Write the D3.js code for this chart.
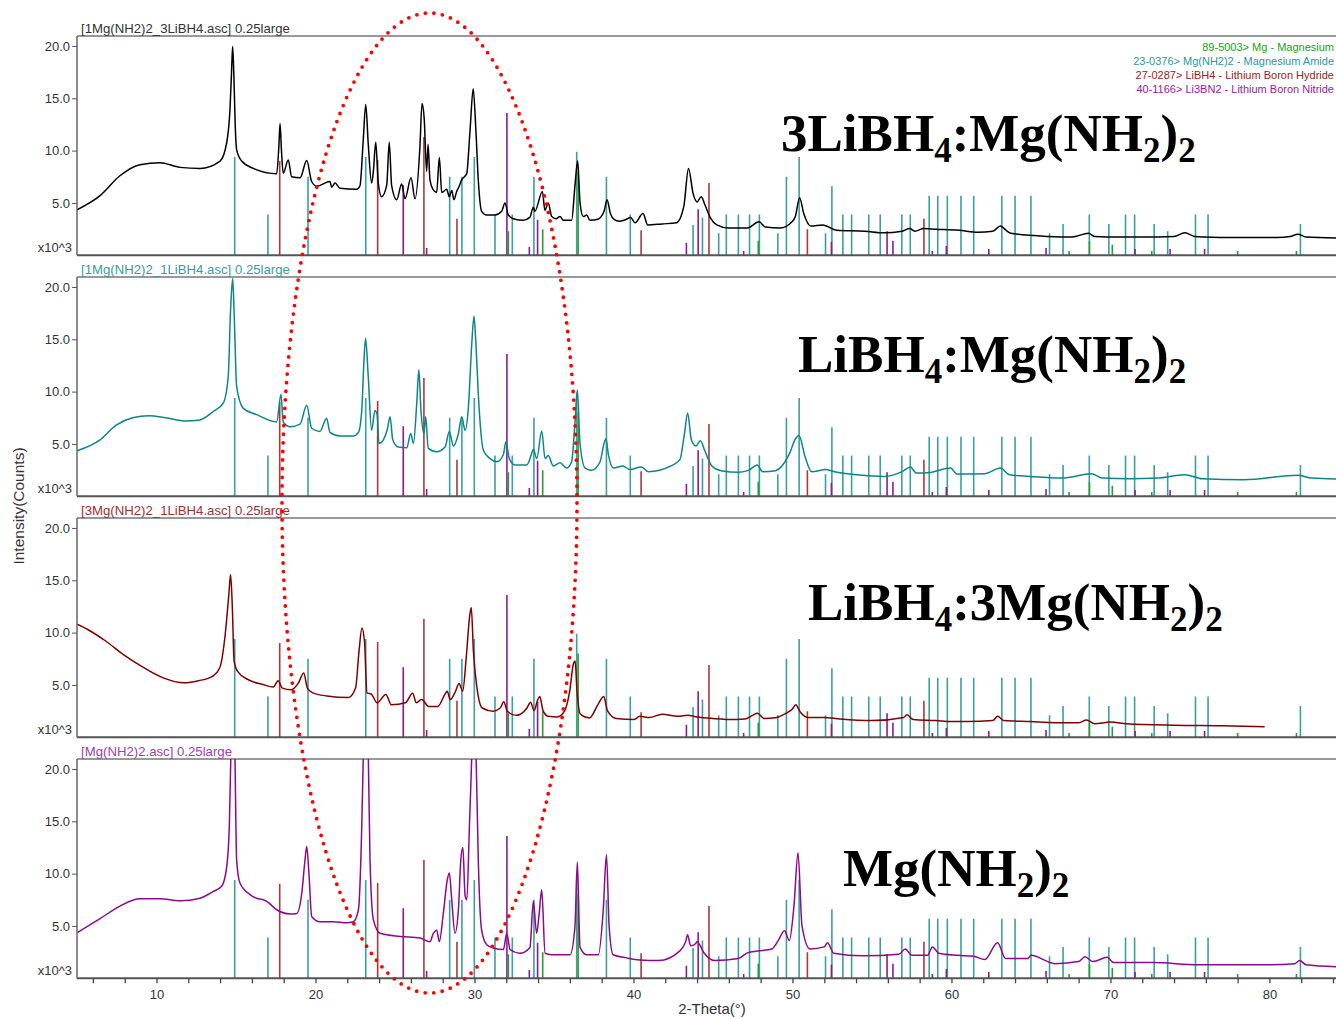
<!DOCTYPE html>
<html><head><meta charset="utf-8">
<script src="https://cdn.jsdelivr.net/npm/d3@7"></script>
<style>body{margin:0;background:#fff}svg{display:block}</style>
</head><body>
<svg id="c" width="1336" height="1019"></svg>
<script>
// ---------------- DATA ----------------
const xTickLabels = [10, 20, 30, 40, 50, 60, 70, 80];
const yTickLabels = [5, 10, 15, 20];
const panelTitles = ["[1Mg(NH2)2_3LiBH4.asc] 0.25large", "[1Mg(NH2)2_1LiBH4.asc] 0.25large", "[3Mg(NH2)2_1LiBH4.asc] 0.25large", "[Mg(NH2)2.asc] 0.25large"];
const sampleLabels = [
  [["3LiBH",0],["4",1],[":Mg(NH",0],["2",1],[")",0],["2",1]],
  [["LiBH",0],["4",1],[":Mg(NH",0],["2",1],[")",0],["2",1]],
  [["LiBH",0],["4",1],[":3Mg(NH",0],["2",1],[")",0],["2",1]],
  [["Mg(NH",0],["2",1],[")",0],["2",1]]
];
const legendLabels = ["89-5003> Mg - Magnesium", "23-0376> Mg(NH2)2 - Magnesium Amide", "27-0287> LiBH4 - Lithium Boron Hydride", "40-1166> Li3BN2 - Lithium Boron Nitride"];

// reference patterns (2-theta, intensity in x10^3 counts scale)
const mgPos  = [32.13, 34.29, 36.52, 47.85, 67.4, 68.68, 70.12, 72.6, 78.0, 81.7];
const mgInt  = [2.3, 2.5, 8.0, 1.4, 0.4, 1.35, 1.0, 0.4, 0.4, 0.4];
const amPos  = [14.92, 17.01, 19.53, 23.16, 28.44, 29.21, 29.99, 31.29, 32.38, 33.74, 36.43, 38.3, 39.8, 43.75, 44.34, 45.36, 45.84, 46.6, 47.3, 47.92, 49.08, 49.62, 50.42, 52.08, 52.48, 53.17, 53.72, 54.8, 55.52, 56.88, 57.41, 58.6, 59.14, 59.74, 60.6, 61.4, 63.17, 64.0, 65.0, 66.17, 67.02, 68.67, 69.9, 70.95, 71.52, 72.75, 73.6, 75.35, 76.14, 81.95];
const amInt  = [9.4, 3.9, 7.5, 9.4, 7.5, 7.5, 9.4, 3.9, 3.9, 7.5, 9.9, 7.5, 3.9, 2.9, 3.6, 2.1, 3.9, 3.9, 3.9, 3.9, 2.1, 7.5, 9.4, 2.1, 6.6, 3.9, 3.9, 3.9, 3.9, 3.9, 3.9, 5.7, 5.7, 5.7, 5.7, 5.7, 5.7, 5.7, 5.7, 2.1, 3.0, 3.9, 3.0, 3.9, 3.9, 3.0, 2.3, 3.9, 3.9, 3.0];
const lbPos  = [17.75, 23.91, 26.82, 28.9, 40.48, 44.75, 50.94, 58.27];
const lbInt  = [9.0, 9.1, 11.3, 3.5, 2.4, 6.9, 2.5, 3.5];
const lnPos  = [25.52, 26.99, 32.04, 33.45, 33.97, 43.33, 44.07, 46.93, 52.45, 55.95, 56.32, 58.8, 59.68, 62.35, 65.95, 71.55, 73.75, 75.92];
const lnInt  = [6.7, 0.7, 13.6, 0.8, 3.4, 1.2, 4.4, 0.4, 1.3, 2.3, 1.4, 0.4, 0.9, 0.6, 0.7, 0.6, 0.6, 0.6];

// measured patterns [2-theta, x10^3 counts]
const curve1 = [[5.0,4.35],[6.45,5.7],[7.7,7.6],[8.96,8.65],[10.22,8.85],[11.48,8.4],[12.74,8.3],[14.0,9.0],[14.42,10.8],[14.62,13.9],[14.72,17.5],[14.79,19.95],[14.87,17],[14.95,12.5],[15.04,10.1],[15.36,9.0],[16.09,8.3],[17.56,7.8],[17.7,10.5],[17.77,12.6],[17.86,10],[17.97,7.85],[18.29,9.1],[18.5,7.5],[19.03,7.4],[19.45,9.05],[19.76,7.05],[20.08,6.6],[20.91,7.05],[21.02,6.5],[21.23,6.9],[21.54,6.4],[22.59,6.3],[22.8,6.65],[23.0,10.9],[23.16,14.4],[23.32,10.6],[23.53,6.9],[23.64,8.0],[23.79,10.8],[23.95,6.9],[24.16,5.6],[24.48,6.7],[24.64,10.8],[24.79,6.65],[25.11,5.3],[25.42,6.8],[25.63,5.4],[26.01,7.4],[26.26,5.4],[26.57,10.4],[26.7,14.5],[26.84,13.0],[26.99,8.0],[27.08,10.6],[27.2,7.2],[27.39,6.3],[27.62,6.0],[27.79,9.35],[27.94,6.0],[28.25,6.3],[28.42,5.6],[28.57,6.2],[28.71,5.3],[28.88,6.1],[29.04,6.6],[29.19,7.2],[29.51,7.8],[29.72,11.9],[29.92,15.9],[30.09,11.9],[30.24,7.2],[30.45,4.2],[30.77,3.85],[31.29,3.85],[31.71,4.2],[31.92,5.0],[32.13,3.85],[32.44,3.5],[33.07,3.35],[33.49,3.65],[33.7,4.6],[33.8,4.2],[34.27,6.1],[34.43,4.3],[34.64,5.0],[34.86,3.7],[35.13,3.5],[35.38,3.7],[35.59,3.35],[36.11,3.35],[36.32,6.65],[36.49,9.0],[36.64,5.0],[36.84,3.7],[37.06,3.85],[37.26,3.35],[37.76,3.45],[38.15,4.2],[38.34,5.3],[38.55,4.0],[38.8,3.4],[39.1,3.25],[39.5,3.4],[39.82,3.6],[40.1,3.1],[40.6,4.0],[40.9,2.9],[41.8,3.0],[42.7,3.1],[43.17,4.7],[43.46,8.3],[43.75,5.9],[44.0,5.1],[44.26,5.6],[44.5,4.8],[44.85,3.55],[45.24,2.9],[45.98,2.6],[47.16,2.6],[47.9,3.2],[48.3,2.7],[49.23,2.6],[49.97,3.2],[50.18,3.7],[50.45,5.5],[50.71,4.0],[51.16,2.8],[51.9,2.9],[52.78,2.4],[54.56,2.3],[55.74,2.15],[56.9,2.3],[57.37,2.55],[57.7,2.3],[58.26,2.55],[59.0,2.5],[60.48,2.4],[61.66,2.2],[62.6,2.3],[63.08,2.8],[63.5,2.3],[63.73,2.1],[66.1,1.8],[67.58,1.75],[68.62,2.1],[69.0,1.8],[70.54,1.75],[72.02,1.75],[74.0,1.8],[74.68,2.15],[75.3,1.8],[75.87,1.75],[77.94,1.7],[80.5,1.7],[81.3,1.8],[81.79,2.0],[82.3,1.75],[84.4,1.65]];
const curve2 = [[5.0,4.35],[6.45,5.4],[7.46,6.8],[8.5,7.5],[9.53,7.7],[10.58,7.5],[11.84,7.2],[12.74,7.3],[13.57,8.1],[14.2,8.9],[14.51,11.4],[14.66,17.8],[14.79,20.8],[14.89,17.2],[15.04,10.5],[15.46,8.4],[16.3,7.8],[17.56,7.1],[17.83,9.75],[17.97,7.1],[18.4,6.65],[19.03,6.9],[19.45,8.7],[19.76,6.5],[20.28,6.2],[20.7,7.45],[20.91,6.1],[21.54,5.75],[22.38,5.75],[22.7,6.1],[22.91,8.2],[23.05,13.0],[23.15,15.1],[23.32,11.4],[23.53,6.3],[23.74,8.2],[23.88,7.8],[23.99,5.05],[24.27,5.4],[24.52,6.4],[24.69,7.6],[24.86,5.4],[25.21,4.7],[25.74,4.65],[25.99,6.0],[26.16,5.05],[26.37,8.9],[26.5,12.1],[26.63,8.3],[26.82,6.0],[26.93,7.6],[27.09,4.6],[27.62,4.25],[28.15,4.7],[28.42,6.2],[28.67,4.8],[28.99,6.0],[29.2,7.6],[29.41,6.3],[29.62,8.55],[29.83,14.6],[29.97,17.2],[30.09,14.6],[30.24,9.8],[30.56,4.4],[30.98,3.6],[31.4,3.3],[31.81,3.95],[31.98,5.2],[32.19,3.6],[32.55,3.0],[33.29,3.0],[33.6,4.1],[33.7,4.5],[33.92,3.6],[34.23,6.25],[34.44,3.6],[34.64,3.9],[34.96,2.9],[35.38,3.2],[35.8,2.7],[36.11,3.3],[36.32,7.0],[36.47,10.15],[36.64,5.0],[36.96,2.7],[37.38,2.5],[37.9,3.3],[38.15,5.05],[38.27,5.5],[38.42,4.0],[38.74,2.7],[39.33,2.9],[39.78,2.55],[40.5,2.8],[40.92,2.35],[42.35,2.9],[42.92,3.5],[43.21,6.0],[43.41,7.95],[43.64,5.4],[43.93,4.8],[44.21,5.3],[44.5,4.3],[44.93,2.9],[45.5,2.45],[46.64,2.3],[47.27,2.5],[47.78,3.0],[48.13,2.35],[48.93,2.45],[49.79,4.0],[50.21,5.55],[50.41,5.8],[50.79,3.8],[51.21,2.35],[52.07,2.55],[52.64,2.35],[54.07,2.06],[55.79,1.9],[56.93,2.38],[57.42,2.8],[57.79,2.22],[58.65,2.28],[59.94,2.7],[60.36,2.12],[62.08,2.15],[63.08,2.7],[63.65,2.06],[64.94,1.9],[66.94,1.74],[68.8,2.15],[69.5,1.74],[71.2,1.67],[72.94,1.74],[74.66,2.06],[75.8,1.67],[78.37,1.58],[81.8,2.0],[82.66,1.74],[84.4,1.64]];
const curve3 = [[5.0,10.8],[5.67,10.3],[6.8,9.2],[7.92,7.9],[9.04,6.8],[10.39,5.7],[11.74,5.2],[12.64,5.4],[13.54,5.85],[13.98,6.65],[14.32,9.8],[14.55,13.65],[14.66,15.55],[14.77,12.4],[14.88,7.3],[15.1,6.3],[15.78,5.5],[16.68,5.05],[17.35,4.8],[17.65,5.4],[17.92,4.7],[18.48,4.55],[18.93,5.2],[19.26,6.15],[19.49,4.7],[19.82,4.25],[20.72,3.95],[22.07,3.8],[22.52,4.7],[22.74,8.25],[22.92,10.45],[23.08,9.2],[23.24,4.25],[23.53,4.1],[23.87,3.3],[24.43,4.1],[24.77,3.1],[25.66,3.3],[26.11,4.2],[26.34,3.3],[26.68,3.6],[27.12,2.95],[27.69,2.95],[28.14,4.1],[28.29,4.4],[28.47,3.6],[28.81,4.4],[29.03,5.15],[29.26,4.4],[29.48,7.6],[29.71,11.75],[29.8,12.4],[29.93,8.3],[30.16,4.7],[30.49,2.8],[31.17,2.5],[31.62,2.8],[31.84,3.4],[32.07,2.5],[32.63,2.1],[33.3,2.8],[33.53,3.35],[33.75,2.55],[33.98,3.6],[34.11,3.9],[34.31,2.55],[34.65,2.0],[35.21,1.95],[35.66,2.5],[35.99,4.4],[36.22,7.0],[36.33,7.3],[36.45,4.4],[36.67,2.2],[37.23,1.85],[37.79,3.2],[38.13,3.9],[38.36,2.55],[38.92,1.8],[40.04,1.7],[40.4,2.0],[41.0,1.9],[41.8,2.2],[42.8,2.0],[43.4,2.1],[44.0,1.95],[45.0,1.8],[46.0,1.7],[47.0,1.75],[47.5,2.1],[47.8,2.3],[48.2,1.8],[49.0,1.9],[49.6,2.3],[50.0,2.7],[50.2,3.1],[50.5,2.4],[51.0,1.9],[52.0,1.9],[53.0,1.75],[55.0,1.6],[57.0,1.9],[57.2,2.15],[57.6,1.7],[59.0,1.6],[60.0,1.5],[61.0,1.5],[62.6,1.6],[62.9,2.0],[63.3,1.6],[65.0,1.5],[66.5,1.4],[68.0,1.4],[68.5,1.65],[69.0,1.3],[70.0,1.45],[71.0,1.3],[74.0,1.15],[77.0,1.1],[79.7,1.0]];
const curve4 = [[5.0,4.35],[6.45,5.7],[7.7,6.9],[8.96,7.6],[10.22,7.6],[11.48,7.4],[12.74,7.65],[13.57,8.3],[14.1,8.8],[14.42,10.7],[14.58,14.5],[14.68,21.5],[14.8,28],[14.93,21.5],[15.04,11.3],[15.25,9.1],[15.88,8.0],[16.3,7.65],[16.72,7.5],[16.93,7.35],[17.56,6.55],[18.4,6.15],[18.82,6.2],[19.14,8.15],[19.34,11.3],[19.45,12.6],[19.6,9.7],[19.76,5.9],[20.28,5.4],[21.12,5.4],[21.96,5.3],[22.38,5.4],[22.7,6.55],[22.91,14.5],[23.01,21.5],[23.17,30],[23.32,21.5],[23.43,11.3],[23.64,5.6],[24.06,4.3],[25.32,4.0],[26.57,3.85],[27.2,3.5],[27.41,4.3],[27.62,4.6],[27.79,3.5],[28.04,6.2],[28.29,9.4],[28.42,10.05],[28.57,7.5],[28.77,4.3],[28.99,6.55],[29.14,11.3],[29.27,12.5],[29.41,7.9],[29.52,7.5],[29.68,14.5],[29.83,21.5],[29.97,32],[30.1,21.5],[30.24,11.3],[30.45,4.6],[30.77,3.2],[31.19,2.9],[31.82,2.75],[32.03,4.3],[32.24,2.75],[32.86,2.4],[33.49,2.95],[33.7,7.35],[33.91,4.3],[34.07,6.2],[34.23,8.45],[34.44,2.4],[34.96,2.25],[36.01,2.25],[36.32,4.95],[36.47,11.1],[36.64,2.95],[37.06,2.25],[37.79,2.25],[38.1,6.55],[38.3,11.8],[38.47,4.95],[38.72,2.25],[39.56,1.95],[40.4,1.75],[41.6,1.7],[42.9,2.6],[43.3,3.6],[43.4,4.15],[43.6,3.1],[43.9,3.3],[44.0,3.5],[44.45,2.4],[45.1,1.7],[46.6,1.9],[47.2,2.45],[47.8,2.6],[48.7,2.8],[49.1,3.6],[49.5,4.55],[49.8,3.6],[50.1,7.0],[50.35,12.0],[50.6,5.0],[51.1,2.8],[52.0,3.0],[52.2,3.4],[52.6,2.4],[54.4,2.15],[56.7,2.3],[57.1,2.8],[57.5,2.2],[58.5,2.2],[58.8,3.0],[59.2,2.4],[60.4,2.2],[61.4,2.1],[62.1,1.8],[62.9,3.4],[63.4,1.9],[64.8,1.9],[65.0,2.2],[66.5,1.4],[68.0,1.6],[68.4,2.05],[68.9,1.6],[69.8,2.0],[70.2,1.5],[72.7,1.5],[75.5,1.3],[80.0,1.3],[81.6,1.4],[81.9,1.7],[82.3,1.3],[84.4,1.1]];
const curves = [curve1, curve2, curve3, curve4];

// ---------------- STYLE / LAYOUT ----------------
const curveColors = ["#000000", "#0b8686", "#800000", "#8b0a8b"];
const titleColors = ["#333333", "#3a9d9d", "#a03030", "#a040a8"];
const phaseColors = {mg: "#2a9a2a", am: "#3aa0a0", lb: "#a83a3a", ln: "#8a1a9a"};
const legendColors = ["#22a022", "#2a9a9a", "#a02020", "#9a1a9a"];
const L = 77, R = 1337;
const panelTops = [36, 277, 518, 759];
const panelH = 219.3;
const labelPos = [[781,151],[798,372],[808,620],[843,886]];

const svg = d3.select("#c");
const x = d3.scaleLinear().domain([5, 84.25]).range([L, R]);
const font = "'Liberation Sans', Arial, sans-serif";

const phases = [
  {pos: amPos, val: amInt, color: phaseColors.am},
  {pos: lbPos, val: lbInt, color: phaseColors.lb},
  {pos: lnPos, val: lnInt, color: phaseColors.ln},
  {pos: mgPos, val: mgInt, color: phaseColors.mg}
];

panelTops.forEach((top, i) => {
  const bottom = top + panelH;
  const y = d3.scaleLinear().domain([0, 20.95]).range([bottom, top]);
  const g = svg.append("g");
  const cid = "clip" + i;
  svg.append("clipPath").attr("id", cid).append("rect")
    .attr("x", L).attr("y", top).attr("width", R - L).attr("height", panelH);
  const pg = g.append("g").attr("clip-path", `url(#${cid})`);

  // sticks
  phases.forEach(ph => {
    pg.selectAll(null).data(ph.pos.map((p, k) => [p, ph.val[k]])).enter().append("line")
      .attr("x1", d => x(d[0])).attr("x2", d => x(d[0]))
      .attr("y1", y(0)).attr("y2", d => y(d[1]))
      .attr("stroke", ph.color).attr("stroke-width", 1.6);
  });

  // measured curve
  const line = d3.line().curve(d3.curveMonotoneX).x(d => x(d[0])).y(d => y(d[1]));
  pg.append("path").datum(curves[i]).attr("d", line)
    .attr("fill", "none").attr("stroke", curveColors[i]).attr("stroke-width", 1.5)
    .attr("stroke-linejoin", "round");

  // frame
  g.append("line").attr("x1", L).attr("x2", R).attr("y1", top).attr("y2", top)
    .attr("stroke", "#333").attr("stroke-width", 1);
  g.append("line").attr("x1", L).attr("x2", R).attr("y1", bottom).attr("y2", bottom)
    .attr("stroke", "#555").attr("stroke-width", 2);
  g.append("line").attr("x1", L).attr("x2", L).attr("y1", top).attr("y2", bottom)
    .attr("stroke", "#666").attr("stroke-width", 1.5);

  // y axis
  const ya = d3.axisLeft(y).tickValues(yTickLabels).tickFormat(d3.format(".1f")).tickSize(5).tickPadding(2);
  const yg = g.append("g").attr("transform", `translate(${L},0)`).call(ya);
  yg.select(".domain").remove();
  yg.selectAll("text").attr("font-family", font).attr("font-size", 13).attr("fill", "#333");
  yg.selectAll("line").attr("stroke", "#555");
  g.append("text").attr("x", 72).attr("y", bottom - 3).attr("text-anchor", "end")
    .attr("font-family", font).attr("font-size", 13).attr("fill", "#333").text("x10^3");

  // panel title
  g.append("text").attr("x", 81).attr("y", top - 3).attr("font-family", font).attr("font-size", 13.2)
    .attr("fill", titleColors[i]).text(panelTitles[i]);

  // sample label
  const t = g.append("text").attr("x", labelPos[i][0]).attr("y", labelPos[i][1])
    .attr("font-family", "'Liberation Serif', 'Times New Roman', serif").attr("font-weight", "bold")
    .attr("font-size", 53).attr("fill", "#000");
  let prevSub = 0;
  sampleLabels[i].forEach(([s, sub]) => {
    const dy = sub === prevSub ? 0 : (sub ? 11 : -11);
    t.append("tspan").attr("dy", dy).attr("font-size", sub ? 35 : 53).text(s);
    prevSub = sub;
  });
});

// legend (top panel), right-aligned inside the picture
legendLabels.forEach((s, k) => {
  svg.append("text").attr("x", 1334).attr("y", 51 + 14 * k).attr("text-anchor", "end")
    .attr("font-family", font).attr("font-size", 11).attr("fill", legendColors[k]).text(s);
});

// x axis
const lastBottom = panelTops[3] + panelH;
const xa = d3.axisBottom(x).tickValues(d3.range(6, 85, 2)).tickSize(5).tickPadding(6)
  .tickFormat(d => xTickLabels.includes(d) ? d : "");
const xg = svg.append("g").attr("transform", `translate(0,${lastBottom})`).call(xa);
xg.select(".domain").remove();
xg.selectAll("text").attr("font-family", font).attr("font-size", 13).attr("fill", "#333");
xg.selectAll("line").attr("stroke", "#444").attr("stroke-width", 1.3);

svg.append("text").attr("x", 712).attr("y", 1014).attr("text-anchor", "middle")
  .attr("font-family", font).attr("font-size", 15).attr("fill", "#333").text("2-Theta(°)");
svg.append("text").attr("transform", "translate(24,506) rotate(-90)").attr("text-anchor", "middle")
  .attr("font-family", font).attr("font-size", 15.5).attr("fill", "#333").text("Intensity(Counts)");

// red dotted highlight ellipse
svg.append("ellipse").attr("cx", 429.5).attr("cy", 503).attr("rx", 147.5).attr("ry", 490)
  .attr("fill", "none").attr("stroke", "#ff0000").attr("stroke-width", 3.8)
  .attr("stroke-dasharray", "0 8.6").attr("stroke-linecap", "round");
</script>
</body></html>
